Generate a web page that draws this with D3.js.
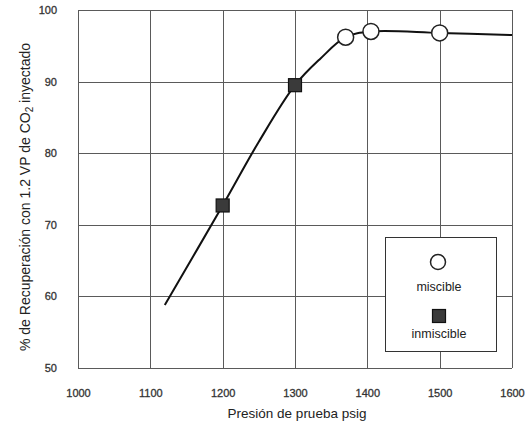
<!DOCTYPE html>
<html>
<head>
<meta charset="utf-8">
<script src="https://cdn.jsdelivr.net/npm/d3@7"></script>
<style>
  html, body { margin: 0; padding: 0; background: #fff; }
  svg { display: block; font-family: "Liberation Sans", Arial, sans-serif; }
</style>
</head>
<body>
<svg id="chart" width="527" height="426"></svg>
<script>
// Recovery curve (pressure in psig, % recovery)
const curvePressure = [1120, 1200, 1250, 1300, 1335, 1370, 1405, 1500, 1600];
const curveRecovery = [58.8, 72.7, 81.6, 89.5, 93.2, 96.2, 97.0, 96.8, 96.5];

// Miscible test points (open circles)
const miscPressure = [1370, 1405, 1500];
const miscRecovery = [96.2, 97.0, 96.8];

// Immiscible test points (filled squares)
const inmiscPressure = [1200, 1300];
const inmiscRecovery = [72.7, 89.5];

const xTicks = [1000, 1100, 1200, 1300, 1400, 1500, 1600];
const yTicks = [50, 60, 70, 80, 90, 100];

const svg = d3.select("#chart");
const margin = { left: 78, right: 15, top: 10, bottom: 58 };
const W = 527, H = 426;

const x = d3.scaleLinear().domain([1000, 1600]).range([margin.left, W - margin.right]);
const y = d3.scaleLinear().domain([50, 100]).range([H - margin.bottom, margin.top]);

// grid
const grid = svg.append("g").attr("stroke", "#5a5a5a").attr("stroke-width", 1).attr("shape-rendering", "crispEdges");
grid.selectAll(".vx").data(xTicks).join("line")
  .attr("x1", d => Math.round(x(d)) + 0.5).attr("x2", d => Math.round(x(d)) + 0.5)
  .attr("y1", y(50)).attr("y2", y(100));
grid.selectAll(".hy").data(yTicks).join("line")
  .attr("y1", d => Math.round(y(d)) + 0.5).attr("y2", d => Math.round(y(d)) + 0.5)
  .attr("x1", x(1000)).attr("x2", x(1600));

// axes (labels only)
const tickStyle = sel => sel.attr("font-size", 11).attr("fill", "#333")
  .attr("stroke", "#333").attr("stroke-width", 0.3)
  .attr("font-family", "Liberation Sans, Arial, sans-serif");

const xAxis = svg.append("g")
  .attr("transform", `translate(0,${y(50) + 18})`)
  .call(d3.axisBottom(x).tickValues(xTicks).tickSize(0).tickFormat(d3.format("d")));
xAxis.select(".domain").remove();
xAxis.selectAll("text").call(tickStyle);

const yAxis = svg.append("g")
  .attr("transform", `translate(${x(1000) - 18},0)`)
  .call(d3.axisLeft(y).tickValues(yTicks).tickSize(0).tickFormat(d3.format("d")));
yAxis.select(".domain").remove();
yAxis.selectAll("text").call(tickStyle);

// axis titles
svg.append("text")
  .attr("x", (x(1000) + x(1600)) / 2 + 2).attr("y", 418)
  .attr("text-anchor", "middle").attr("font-size", 13.5).attr("fill", "#222")
  .text("Presión de prueba psig");

const yt = svg.append("text")
  .attr("transform", `translate(30,197) rotate(-90)`)
  .attr("text-anchor", "middle").attr("font-size", 14).attr("fill", "#222");
yt.append("tspan").text("% de Recuperación con 1.2 VP de CO");
yt.append("tspan").attr("font-size", 10).attr("dy", 3).text("2");
yt.append("tspan").attr("dy", -3).text(" inyectado");

// recovery curve
const pts = curvePressure.map((p, i) => [p, curveRecovery[i]]);
svg.append("path")
  .datum(pts)
  .attr("fill", "none").attr("stroke", "#111").attr("stroke-width", 2)
  .attr("d", d3.line().x(d => x(d[0])).y(d => y(d[1])).curve(d3.curveCatmullRom.alpha(0.5)));

// immiscible squares
const sq = 13;
svg.selectAll(".inm").data(inmiscPressure.map((p, i) => [p, inmiscRecovery[i]])).join("rect")
  .attr("x", d => x(d[0]) - sq / 2).attr("y", d => y(d[1]) - sq / 2)
  .attr("width", sq).attr("height", sq)
  .attr("fill", "#3a3a3a").attr("stroke", "#111").attr("stroke-width", 1.2);

// miscible circles
svg.selectAll(".mis").data(miscPressure.map((p, i) => [p, miscRecovery[i]])).join("circle")
  .attr("cx", d => x(d[0])).attr("cy", d => y(d[1])).attr("r", 8)
  .attr("fill", "#fff").attr("stroke", "#222").attr("stroke-width", 1.5);

// legend
const lg = svg.append("g");
lg.append("rect").attr("x", 385.5).attr("y", 237.5).attr("width", 111).attr("height", 114)
  .attr("fill", "#fff").attr("stroke", "#333").attr("stroke-width", 1);
lg.append("circle").attr("cx", 438).attr("cy", 262).attr("r", 7.5)
  .attr("fill", "#fff").attr("stroke", "#222").attr("stroke-width", 1.5);
lg.append("text").attr("x", 439).attr("y", 291).attr("text-anchor", "middle")
  .attr("font-size", 12.5).attr("fill", "#222").text("miscible");
lg.append("rect").attr("x", 439 - sq / 2).attr("y", 316 - sq / 2).attr("width", sq).attr("height", sq)
  .attr("fill", "#3a3a3a").attr("stroke", "#111").attr("stroke-width", 1.2);
lg.append("text").attr("x", 439).attr("y", 338).attr("text-anchor", "middle")
  .attr("font-size", 12.5).attr("fill", "#222").text("inmiscible");
</script>
</body>
</html>
